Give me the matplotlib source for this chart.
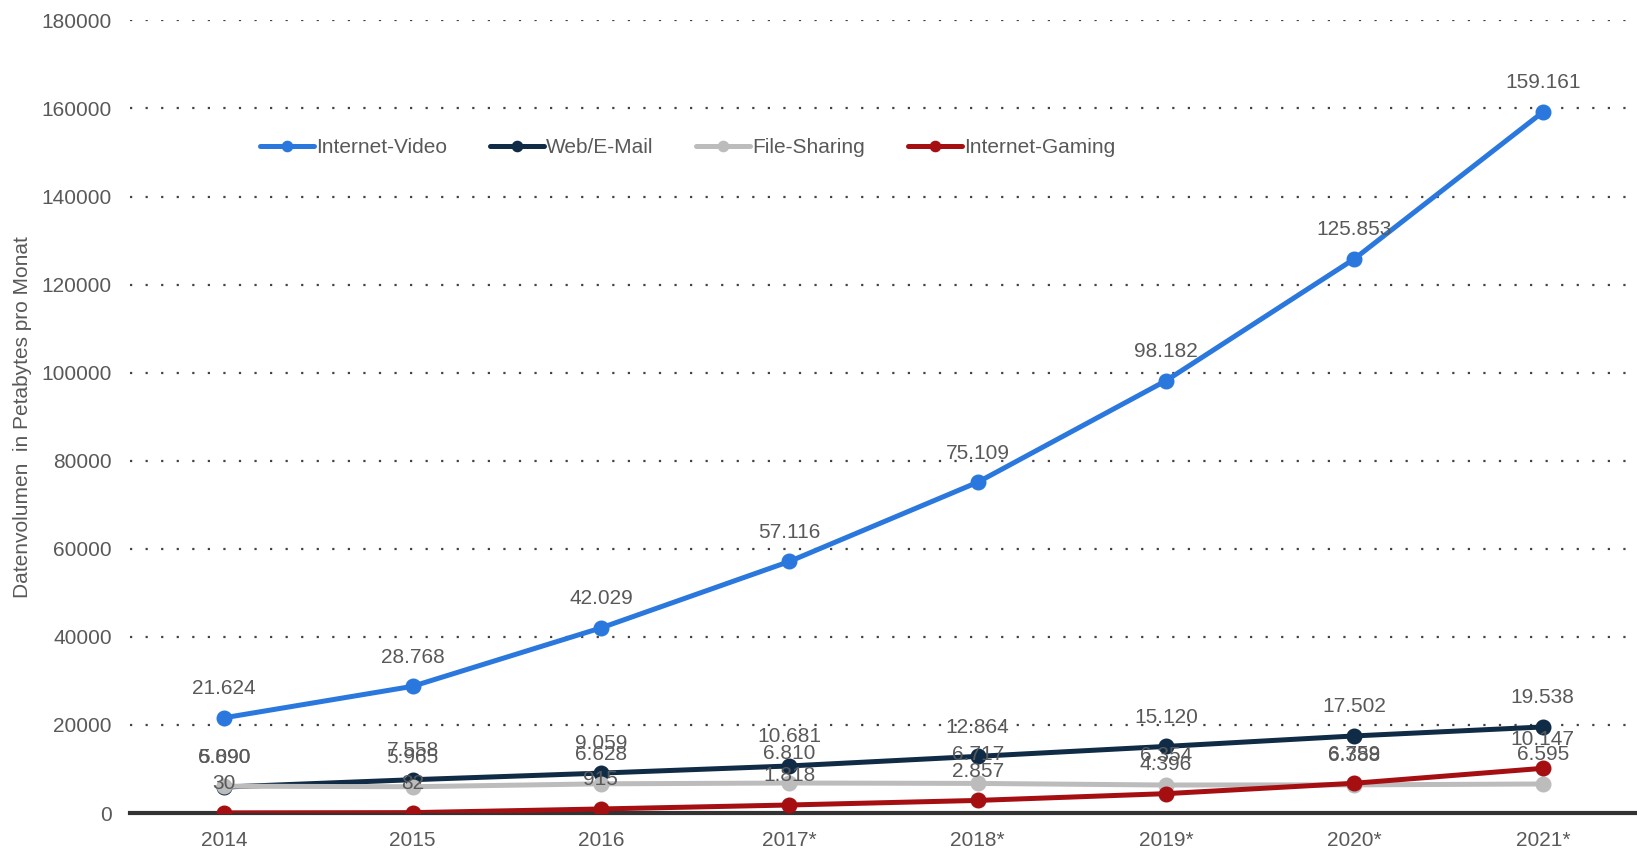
import matplotlib
matplotlib.use("Agg")
import matplotlib.pyplot as plt

years = ["2014", "2015", "2016", "2017*", "2018*", "2019*", "2020*", "2021*"]
internet_video = [21624, 28768, 42029, 57116, 75109, 98182, 125853, 159161]
web_email = [5890, 7558, 9059, 10681, 12864, 15120, 17502, 19538]
file_sharing = [6090, 5965, 6628, 6810, 6717, 6354, 6388, 6595]
internet_gaming = [30, 82, 915, 1818, 2857, 4396, 6759, 10147]

series = [
    ("Internet-Video", internet_video, "#2a78de"),
    ("Web/E-Mail", web_email, "#0f2b45"),
    ("File-Sharing", file_sharing, "#bcbcbc"),
    ("Internet-Gaming", internet_gaming, "#a50f12"),
]

plt.rcParams['font.family'] = ['Liberation Sans', 'DejaVu Sans']

fig = plt.figure(figsize=(16.37, 8.49), dpi=100)
ax = fig.add_axes([0.0794, 0.0424, 0.9206, 0.9336])

x = list(range(len(years)))

def fmt(v):
    return f"{v:,}".replace(",", ".")

handles = []
for name, vals, col in series:
    h, = ax.plot(x, vals, color=col, lw=3.6, marker='o', markersize=10.5,
                 label=name, zorder=3, solid_capstyle='round')
    handles.append(h)
    for xi, v in zip(x, vals):
        ax.annotate(fmt(v), (xi, v), xytext=(0, 21), textcoords='offset points',
                    ha='center', va='center', fontsize=15, color='#595959', zorder=4)

ax.set_xlim(-0.5, 7.5)
ax.set_ylim(0, 180000)
ax.set_yticks(range(0, 180001, 20000))
ax.set_xticks(x)
ax.set_xticklabels(years)
ax.tick_params(axis='both', length=0, labelsize=15, labelcolor='#595959')
ax.tick_params(axis='x', pad=13)
ax.tick_params(axis='y', pad=13)

ax.grid(axis='y', linestyle=(0, (1, 6)), color='#444444', lw=1.6)
ax.set_axisbelow(True)
for s in ['top', 'right', 'left']:
    ax.spines[s].set_visible(False)
ax.spines['bottom'].set_color('#333333')
ax.spines['bottom'].set_linewidth(3)
ax.spines['bottom'].set_zorder(2.5)

ax.set_ylabel("Datenvolumen  in Petabytes pro Monat", fontsize=15, color='#595959')
ax.yaxis.set_label_coords(-0.065, 0.5)

leg = ax.legend(handles=handles, loc='center left', bbox_to_anchor=(0.086, 0.8393),
                ncol=4, frameon=False, fontsize=15, handlelength=2.6,
                handletextpad=0.1, columnspacing=2.05, markerscale=0.7,
                labelcolor='#595959', borderpad=0, borderaxespad=0)

fig.savefig("out.png", dpi=100)
